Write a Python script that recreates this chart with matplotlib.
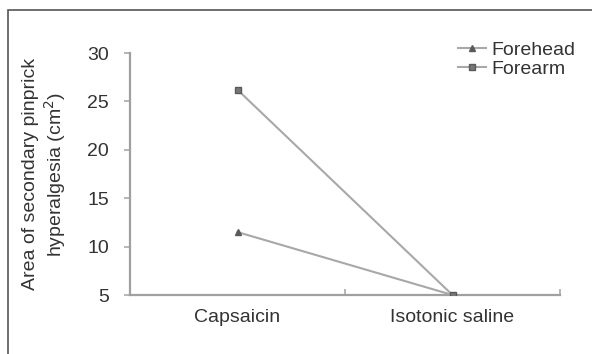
import matplotlib
matplotlib.use("Agg")
import matplotlib.pyplot as plt
from matplotlib.patches import Rectangle

plt.rcParams['font.family'] = ['Liberation Sans', 'DejaVu Sans']

categories = ["Capsaicin", "Isotonic saline"]
forehead = [11.5, 5.0]
forearm = [26.2, 5.0]
yticks = [5, 10, 15, 20, 25, 30]

W, H = 592, 354
fig = plt.figure(figsize=(W/100, H/100), dpi=100)
AX_L, AX_R, AX_T, AX_B = 130, 560, 53, 295
ax = fig.add_axes([AX_L/W, (H-AX_B)/H, (AX_R-AX_L)/W, (AX_B-AX_T)/H])

xpos = [0.5, 1.5]
line_c = '#a8a8a8'
mk_c = '#5a5a5a'
ax.plot(xpos, forehead, color=line_c, lw=1.5, marker='^', ms=5,
        mfc=mk_c, mec=mk_c, label='Forehead', zorder=3)
ax.plot(xpos, forearm, color=line_c, lw=1.5, marker='s', ms=4.5,
        mfc='#777777', mec=mk_c, label='Forearm', zorder=3)

ax.set_xlim(0, 2)
ax.set_ylim(5, 30)
ax.set_yticks(yticks)
ax.set_xticks(xpos)
ax.set_xticklabels(categories)
ax.set_xticks([0, 1, 2], minor=True)
ax.tick_params(axis='x', which='major', length=0, pad=10, labelsize=14, labelcolor='#333333')
ax.tick_params(axis='x', which='minor', length=4, direction='in', color='#aaaaaa', width=1.2)
ax.tick_params(axis='y', length=4, direction='out', color='#aaaaaa', width=1.2,
               pad=11, labelsize=14, labelcolor='#333333')
for s in ['top', 'right']:
    ax.spines[s].set_visible(False)
for s in ['left', 'bottom']:
    ax.spines[s].set_color('#a0a0a0')
    ax.spines[s].set_linewidth(1.6)
ax.spines['bottom'].set_zorder(2)

fig.text(45/W, 1 - 174/H, "Area of secondary pinprick\nhyperalgesia (cm$^2$)",
         rotation=90, ha='center', va='center', fontsize=14, color='#333333',
         linespacing=1.2)

leg = ax.legend(loc='upper left',
                bbox_to_anchor=((458-AX_L)/(AX_R-AX_L), (AX_B-41)/(AX_B-AX_T)),
                frameon=False, fontsize=14, handlelength=1.45, handletextpad=0.25,
                borderaxespad=0, labelspacing=0.1, borderpad=0)
for t in leg.get_texts():
    t.set_color('#333333')

fig.patches.append(Rectangle((8/W, -0.1), 1.2, (H-10)/H + 0.1, transform=fig.transFigure,
                             fill=False, edgecolor='#555555', lw=1.2))

fig.savefig('out.png', dpi=100)
